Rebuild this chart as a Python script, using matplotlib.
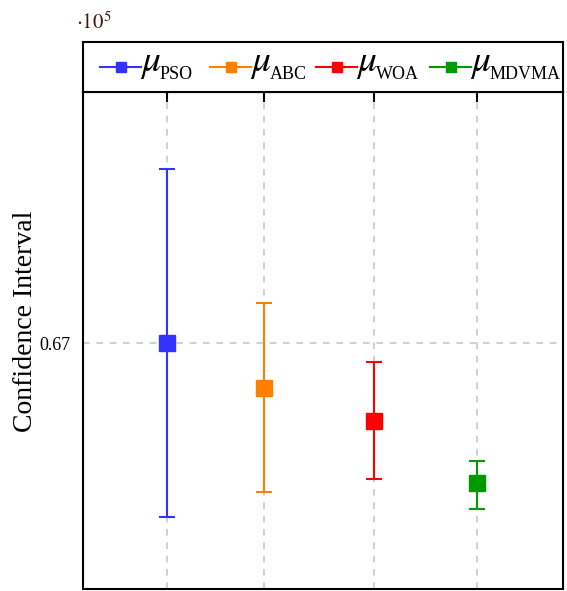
import numpy as np
import matplotlib.pyplot as plt

plt.rcParams['font.family'] = 'Liberation Serif'
plt.rcParams['mathtext.fontset'] = 'stix'

# data (units of 10^5)
methods = ['PSO', 'ABC', 'WOA', 'MDVMA']
xpos = [0.875, 1.885, 3.03, 4.10]
means = [0.67000, 0.66910, 0.66844, 0.66720]
upper = [0.67348, 0.67080, 0.66962, 0.66764]
lower = [0.66652, 0.66702, 0.66728, 0.66668]
colors = ['#3333ff', '#ff8000', '#ff0000', '#009900']

W, H = 567, 591
fig = plt.figure(figsize=(W / 100, H / 100), dpi=100)
ax = fig.add_axes([83 / W, 2 / H, 480 / W, 497 / H])
lax = fig.add_axes([83 / W, 499 / H, 480 / W, 50 / H])

for i in range(len(methods)):
    err = [[means[i] - lower[i]], [upper[i] - means[i]]]
    ax.errorbar([xpos[i]], [means[i]], yerr=err, color=colors[i], fmt='s',
                markersize=12, capsize=6, elinewidth=1.5, capthick=1.5, zorder=3)

ax.set_xlim(0, 5)
ax.set_ylim(0.66508, 0.67502)
ax.set_yticks([0.67])
ax.set_yticklabels(['0.67'], fontsize=13)
ax.set_xticks(xpos)
ax.tick_params(axis='x', which='both', bottom=False, top=True, labelbottom=False,
               direction='in', length=7, width=1.5)
ax.tick_params(axis='y', direction='in', length=0, pad=9)
ax.grid(True, color='#c8c8c8', linestyle=(0, (4, 4)), linewidth=1.2)
ax.set_axisbelow(True)
ax.set_ylabel('Confidence Interval', fontsize=20)
ax.yaxis.set_label_coords(-0.094, 0.538)
for s in ax.spines.values():
    s.set_linewidth(1.5)

# legend strip, drawn by hand so the mu can be larger than its subscript
lax.set_xlim(83, 563)
lax.set_ylim(92, 42)
lax.set_xticks([])
lax.set_yticks([])
for s in lax.spines.values():
    s.set_linewidth(1.5)
item_x = [100, 210, 316, 430]
for i in range(len(methods)):
    x0 = item_x[i]
    lax.plot([x0, x0 + 41], [67, 67], color=colors[i], linewidth=1.5)
    lax.plot([x0 + 20.5], [67], color=colors[i], marker='s', markersize=7)
    lax.text(x0 + 40, 71, r'$\mu$', fontsize=27, va='baseline', ha='left')
    lax.text(x0 + 60, 79, methods[i], fontsize=13, va='baseline', ha='left')

fig.text(76 / W, 1 - 29 / H, r'$\cdot 10^{5}$', fontsize=15, color='#401515',
         va='baseline')

plt.savefig('out.png', dpi=100)
